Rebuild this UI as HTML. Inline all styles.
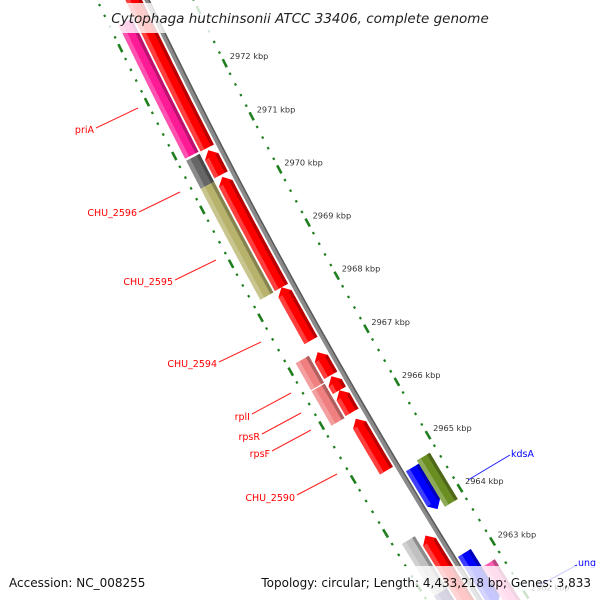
<!DOCTYPE html>
<html><head><meta charset="utf-8"><style>
html,body{margin:0;padding:0;background:#fff;width:600px;height:600px;overflow:hidden;}
svg{display:block;overflow:hidden;font-family:"DejaVu Sans","Liberation Sans",sans-serif;}
</style></head><body>
<svg id="map" width="600" height="600" viewBox="0 0 600 600" xmlns="http://www.w3.org/2000/svg">
<g id="rings"></g>
<g id="backbone"></g>
<g id="feats"></g>
<g id="ticklabels"></g>
<g id="labels" font-size="9.5">
 <line x1="96" y1="128" x2="138" y2="108" stroke="#ff2020" stroke-width="1"/>
 <text x="94" y="133" text-anchor="end" fill="#ff0000">priA</text>
 <line x1="139" y1="212" x2="180" y2="192" stroke="#ff2020" stroke-width="1"/>
 <text x="137" y="216" text-anchor="end" fill="#ff0000">CHU_2596</text>
 <line x1="175" y1="280" x2="216" y2="260" stroke="#ff2020" stroke-width="1"/>
 <text x="173" y="285" text-anchor="end" fill="#ff0000">CHU_2595</text>
 <line x1="219" y1="362" x2="261" y2="342" stroke="#ff2020" stroke-width="1"/>
 <text x="217" y="367" text-anchor="end" fill="#ff0000">CHU_2594</text>
 <line x1="252" y1="414" x2="291" y2="393" stroke="#ff2020" stroke-width="1"/>
 <text x="250" y="420" text-anchor="end" fill="#ff0000">rplI</text>
 <line x1="262" y1="434" x2="301" y2="413" stroke="#ff2020" stroke-width="1"/>
 <text x="260" y="440" text-anchor="end" fill="#ff0000">rpsR</text>
 <line x1="272" y1="451" x2="311" y2="430" stroke="#ff2020" stroke-width="1"/>
 <text x="270" y="457" text-anchor="end" fill="#ff0000">rpsF</text>
 <line x1="297" y1="495" x2="337" y2="474" stroke="#ff2020" stroke-width="1"/>
 <text x="295" y="501" text-anchor="end" fill="#ff0000">CHU_2590</text>
 <line x1="468" y1="480" x2="510" y2="455" stroke="#2020ff" stroke-width="1"/>
 <text x="511" y="457" fill="#0000ff">kdsA</text>
 <line x1="540" y1="585" x2="577" y2="565" stroke="#2020ff" stroke-width="1"/>
 <text x="578" y="566" fill="#0000ff">ung</text>
</g>
<rect x="106" y="3" width="388" height="30" fill="#fff" opacity="0.8"/>
<text x="300" y="23" text-anchor="middle" font-size="13.5" font-style="italic" fill="#222">Cytophaga hutchinsonii ATCC 33406, complete genome</text>
<rect x="0" y="566" width="600" height="34" fill="#fff" opacity="0.78"/>
<text x="9" y="587" font-size="12" fill="#111">Accession: NC_008255</text>
<text x="591" y="587" text-anchor="end" font-size="12" fill="#111">Topology: circular; Length: 4,433,218 bp; Genes: 3,833</text>
</svg>
<script>
// Feature data (kbp)
const fwdStarts = [2970.87, 2970.37, 2968.27, 2967.28, 2966.63, 2966.35, 2965.94, 2964.85, 2962.0];
const fwdEnds   = [2974.5, 2970.83, 2970.33, 2968.27, 2967.06, 2966.61, 2966.35, 2965.82, 2963.64];
const cogStarts = [2970.88, 2970.32, 2968.26, 2966.58, 2965.92, 2962.75, 2962.0];
const cogEnds   = [2973.36, 2970.84, 2970.32, 2967.08, 2966.56, 2963.72, 2962.75];
const cogColors = ["#ff1a96", "#666666", "#b7b26c", "#f08080", "#f08080", "#c0c0c0", "#4a3f86"];
const revStarts = [2963.90, 2962.09];
const revEnds   = [2964.68, 2963.08];
const revColors = ["#0000ff", "#0000ff"];
const rcogStarts = [2963.87, 2961.65];
const rcogEnds   = [2964.74, 2962.74];
const rcogColors = ["#6b8e23", "#ff5fb0"];
const tickKbp = [2961, 2962, 2963, 2964, 2965, 2966, 2967, 2968, 2969, 2970, 2971, 2972, 2973, 2974];

const NS = "http://www.w3.org/2000/svg";
function yParam(k){ return 82 + (2972 - k) * 53.5; }
function pt(k, d){
  const y0 = yParam(k);
  const x = 147 + 0.48 * y0 + 0.000124 * y0 * y0;
  const s = 0.48 + 2 * 0.000124 * y0;
  const n = Math.sqrt(1 + s * s);
  return [x + d / n, y0 - d * s / n];
}
function mk(tag, attrs, parent){
  const e = document.createElementNS(NS, tag);
  for (const a in attrs) e.setAttribute(a, attrs[a]);
  parent.appendChild(e); return e;
}
function band(k1, k2, d1, d2){
  const pts = [], N = 30;
  for (let i = 0; i <= N; i++){ pts.push(pt(k1 + (k2 - k1) * i / N, d1)); }
  for (let i = N; i >= 0; i--){ pts.push(pt(k1 + (k2 - k1) * i / N, d2)); }
  return pts;
}
function ptsStr(p){ return p.map(q => q[0].toFixed(1) + "," + q[1].toFixed(1)).join(" "); }
function lighten(c, f){
  const r = parseInt(c.substr(1,2),16), g = parseInt(c.substr(3,2),16), b = parseInt(c.substr(5,2),16);
  const m = v => Math.round(f >= 0 ? v + (255 - v) * f : v * (1 + f));
  return "rgb(" + m(r) + "," + m(g) + "," + m(b) + ")";
}
function feature(k1, k2, d, w, color, dir, name){
  const g = mk("g", {}, document.getElementById("feats"));
  
  
  const head = 0.12;
  let a = k1, b = k2;
  if (dir > 0) b = Math.max(k1, k2 - head);
  if (dir < 0) a = Math.min(k2, k1 + head);
  const lo = d - w / 2, hi = d + w / 2;
  const left = [], right = [], N = 30;
  for (let i = 0; i <= N; i++) left.push(pt(a + (b - a) * i / N, lo));
  for (let i = N; i >= 0; i--) right.push(pt(a + (b - a) * i / N, hi));
  let poly = left.slice();
  if (dir > 0) poly.push(pt(k2, d));
  poly = poly.concat(right);
  if (dir < 0) poly.push(pt(k1, d));
  mk("polygon", {points: ptsStr(poly), fill: color}, g);
  const hl = band(a, b, lo, lo + w * 0.3);
  mk("polygon", {points: ptsStr(hl), fill: lighten(color, 0.3), opacity: "0.8"}, g);
  const sh = band(a, b, hi - w * 0.22, hi);
  mk("polygon", {points: ptsStr(sh), fill: lighten(color, -0.3), opacity: "0.9"}, g);
}
// rings
const rings = document.getElementById("rings");
[42, -45].forEach(d => {
  for (let t = 0; t <= 75; t++){
    const k = 2960 + t * 0.2;
    const major = Math.abs(k - Math.round(k)) < 1e-6;
    const len = major ? 0.075 : 0.02;
    const p1 = pt(k + len, d), p2 = pt(k - len, d);
    const l = mk("line", {x1: p1[0].toFixed(1), y1: p1[1].toFixed(1), x2: p2[0].toFixed(1), y2: p2[1].toFixed(1),
      stroke: "#1f7f1f", "stroke-width": major ? 2.6 : 2.2}, rings);
    
    
  }
});
// backbone
const bb = document.getElementById("backbone");
const bpts = []; for (let i = 0; i <= 60; i++) bpts.push(pt(2961 + i * 14 / 60, 0));
mk("polyline", {points: ptsStr(bpts), fill: "none", stroke: "#8a8a8a", "stroke-width": 5}, bb);
const bpts2 = []; for (let i = 0; i <= 60; i++) bpts2.push(pt(2961 + i * 14 / 60, 1.8));
mk("polyline", {points: ptsStr(bpts2), fill: "none", stroke: "#5a5a5a", "stroke-width": 1.5}, bb);
// features
fwdStarts.forEach((s, i) => feature(s, fwdEnds[i], -12, 15, "#ff0000", 1, "forward-gene-" + i));
cogStarts.forEach((s, i) => feature(s, cogEnds[i], -29, 15, cogColors[i], 0, "cog-feature-" + i));
revStarts.forEach((s, i) => feature(s, revEnds[i], 12, 15, revColors[i], -1, "reverse-gene-" + i));
rcogStarts.forEach((s, i) => feature(s, rcogEnds[i], 27, 15, rcogColors[i], 0, "reverse-cog-feature-" + i));
// tick labels
const tl = document.getElementById("ticklabels");
tickKbp.forEach(k => {
  const p = pt(k, 42);
  if (p[1] < 30 || p[1] > 595) return;
  const t = mk("text", {x: (p[0] + 5).toFixed(1), y: (p[1] - 4).toFixed(1), "font-size": "8.2", fill: "#333"}, tl);
  
  
  t.textContent = k + " kbp";
});
</script>
</body></html>
